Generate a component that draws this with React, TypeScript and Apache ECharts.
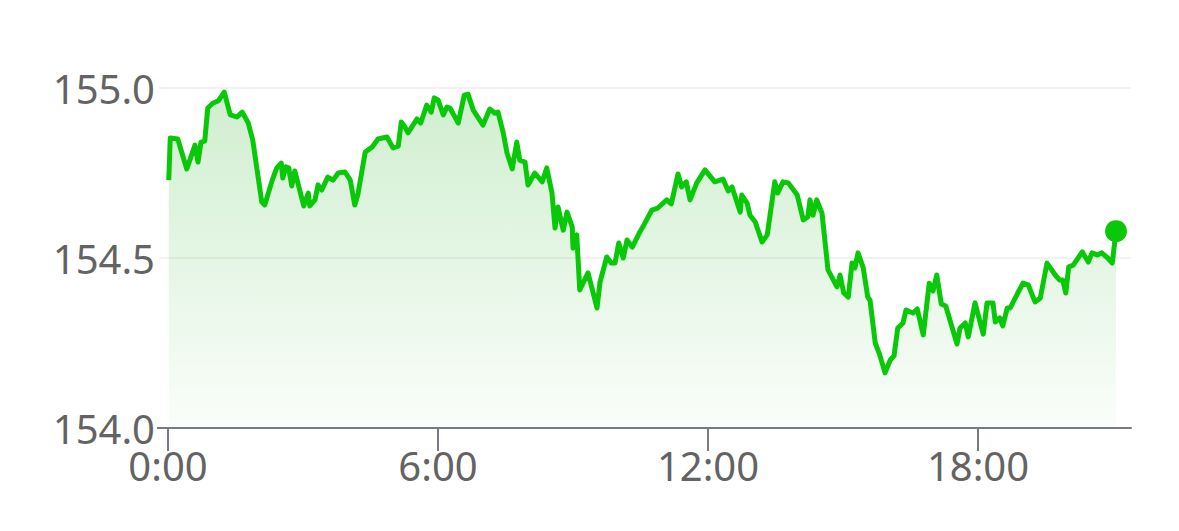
import React, { useEffect, useRef } from "react";
import * as echarts from "echarts";

// minutes since 0:00
const times: number[] = [
  1, 3, 13, 25, 36, 40, 44, 49, 53, 60, 67, 75, 83, 92, 99, 107, 113, 125, 129, 139,
  145, 151, 153, 157, 161, 165, 169, 181, 187, 189, 196, 200, 205, 213, 220, 227, 236, 243, 249, 253,
  263, 272, 280, 292, 300, 307, 311, 316, 320, 332, 337, 345, 351, 355, 360, 367, 372, 376, 387, 395,
  400, 407, 420, 429, 436, 440, 447, 452, 459, 465, 469, 476, 480, 489, 499, 505, 512, 516, 520, 527,
  532, 539, 540, 545, 549, 560, 572, 576, 585, 591, 596, 601, 607, 612, 619, 629, 633, 645, 653, 665,
  671, 680, 685, 691, 696, 705, 716, 729, 740, 747, 752, 763, 765, 772, 776, 783, 792, 799, 809, 813,
  820, 827, 839, 847, 853, 856, 860, 865, 872, 880, 892, 896, 901, 907, 912, 916, 920, 927, 933, 936,
  943, 949, 956, 963, 968, 973, 980, 984, 993, 999, 1007, 1015, 1020, 1025, 1031, 1037, 1052, 1056, 1063, 1067,
  1076, 1087, 1092, 1100, 1103, 1109, 1113, 1119, 1123, 1133, 1140, 1147, 1156, 1163, 1172, 1183, 1189, 1193, 1197, 1201,
  1207, 1219, 1227, 1232, 1239, 1245, 1253, 1259, 1264,
];

const prices: number[] = [
  154.729, 154.853, 154.85, 154.762, 154.832, 154.782, 154.841, 154.844, 154.941, 154.956, 154.962, 154.988, 154.921, 154.915, 154.929, 154.897, 154.847, 154.665, 154.656, 154.729,
  154.765, 154.779, 154.735, 154.768, 154.765, 154.712, 154.756, 154.653, 154.691, 154.653, 154.671, 154.715, 154.7, 154.738, 154.729, 154.75, 154.753, 154.729, 154.656, 154.685,
  154.812, 154.826, 154.85, 154.856, 154.824, 154.829, 154.9, 154.885, 154.868, 154.909, 154.897, 154.95, 154.929, 154.971, 154.965, 154.921, 154.944, 154.941, 154.897, 154.979,
  154.982, 154.935, 154.891, 154.938, 154.926, 154.929, 154.868, 154.809, 154.762, 154.841, 154.788, 154.782, 154.715, 154.75, 154.724, 154.765, 154.691, 154.588, 154.65, 154.582,
  154.635, 154.591, 154.529, 154.568, 154.406, 154.456, 154.353, 154.429, 154.503, 154.485, 154.485, 154.544, 154.5, 154.553, 154.532, 154.576, 154.591, 154.641, 154.647, 154.671,
  154.659, 154.747, 154.709, 154.724, 154.671, 154.721, 154.759, 154.724, 154.732, 154.697, 154.709, 154.635, 154.685, 154.662, 154.626, 154.606, 154.547, 154.568, 154.724, 154.691,
  154.724, 154.721, 154.685, 154.612, 154.621, 154.671, 154.626, 154.671, 154.632, 154.465, 154.415, 154.45, 154.397, 154.385, 154.485, 154.471, 154.515, 154.471, 154.385, 154.376,
  154.25, 154.215, 154.162, 154.2, 154.212, 154.294, 154.309, 154.347, 154.338, 154.35, 154.274, 154.426, 154.403, 154.45, 154.365, 154.359, 154.247, 154.294, 154.309, 154.268,
  154.368, 154.276, 154.368, 154.368, 154.312, 154.324, 154.3, 154.353, 154.353, 154.397, 154.426, 154.421, 154.371, 154.382, 154.485, 154.45, 154.435, 154.435, 154.397, 154.474,
  154.479, 154.518, 154.488, 154.515, 154.509, 154.515, 154.5, 154.485, 154.579,
];

const xTickValues: number[] = [0, 360, 720, 1080];
const xTickLabels: string[] = ["0:00", "6:00", "12:00", "18:00"];
const yTickLabels: string[] = ["154.0", "154.5", "155.0"];

const X_MIN = 0;
const X_MAX = 1284;
const X_INTERVAL = 360;
const Y_MIN = 154.0;
const Y_MAX = 155.0;
const Y_INTERVAL = 0.5;

export default function App() {
  const ref = useRef<HTMLDivElement>(null);

  useEffect(() => {
    if (!ref.current) return;
    const chart = echarts.init(ref.current, null, { renderer: "svg" });
    const lineData = times.map((t, i) => [t, prices[i]]);
    const last = lineData[lineData.length - 1];
    const axisColor = "#777b83";
    const labelColor = "#636363";
    const green = "#08c808";
    const font = "'Noto Sans', 'DejaVu Sans', sans-serif";

    chart.setOption({
      animation: false,
      grid: { left: 168, right: 48, top: 88, bottom: 103, containLabel: false },
      xAxis: {
        type: "value",
        min: X_MIN,
        max: X_MAX,
        interval: X_INTERVAL,
        axisLine: { show: true, lineStyle: { color: axisColor, width: 2 } },
        axisTick: {
          show: true,
          length: 23,
          customValues: xTickValues,
          lineStyle: { color: axisColor, width: 2 },
        },
        axisLabel: {
          margin: 23,
          fontSize: 40,
          lineHeight: 28,
          fontFamily: font,
          color: labelColor,
          customValues: xTickValues,
          formatter: (v: number) => xTickLabels[xTickValues.indexOf(v)] ?? "",
        },
        splitLine: { show: false },
      },
      yAxis: {
        type: "value",
        min: Y_MIN,
        max: Y_MAX,
        interval: Y_INTERVAL,
        axisLine: { show: false },
        axisTick: { show: true, length: 9, lineStyle: { color: "#f2f2f2", width: 2 } },
        axisLabel: {
          margin: 13,
          fontSize: 40,
          lineHeight: 28,
          fontFamily: font,
          color: labelColor,
          formatter: (_v: number, i: number) => yTickLabels[i] ?? "",
        },
        splitLine: { show: true, lineStyle: { color: "#f2f2f2", width: 2 } },
      },
      series: [
        {
          type: "line",
          data: lineData,
          showSymbol: false,
          symbol: "none",
          lineStyle: { color: green, width: 5, join: "round" },
          itemStyle: { color: green },
          areaStyle: {
            origin: "start",
            color: new echarts.graphic.LinearGradient(0, 0, 0, 1, [
              { offset: 0, color: "rgba(30,175,30,0.3)" },
              { offset: 1, color: "rgba(30,175,30,0.03)" },
            ]),
          },
          z: 2,
        },
        {
          type: "scatter",
          data: [last],
          symbol: "circle",
          symbolSize: 22,
          itemStyle: { color: green, opacity: 1 },
          z: 3,
        },
      ],
    });

    const p = chart.convertToPixel({ gridIndex: 0 }, [X_MIN, Y_MIN]) as number[];
    if (p) {
      chart.setOption({
        graphic: [
          {
            type: "line",
            shape: { x1: p[0] - 11, y1: p[1], x2: p[0], y2: p[1] },
            style: { stroke: axisColor, lineWidth: 2 },
            z: 10,
          },
        ],
      });
    }

    return () => chart.dispose();
  }, []);

  return (
    <div
      ref={ref}
      style={{ position: "fixed", left: 0, top: 0, width: 1179, height: 531, background: "#ffffff" }}
    />
  );
}
